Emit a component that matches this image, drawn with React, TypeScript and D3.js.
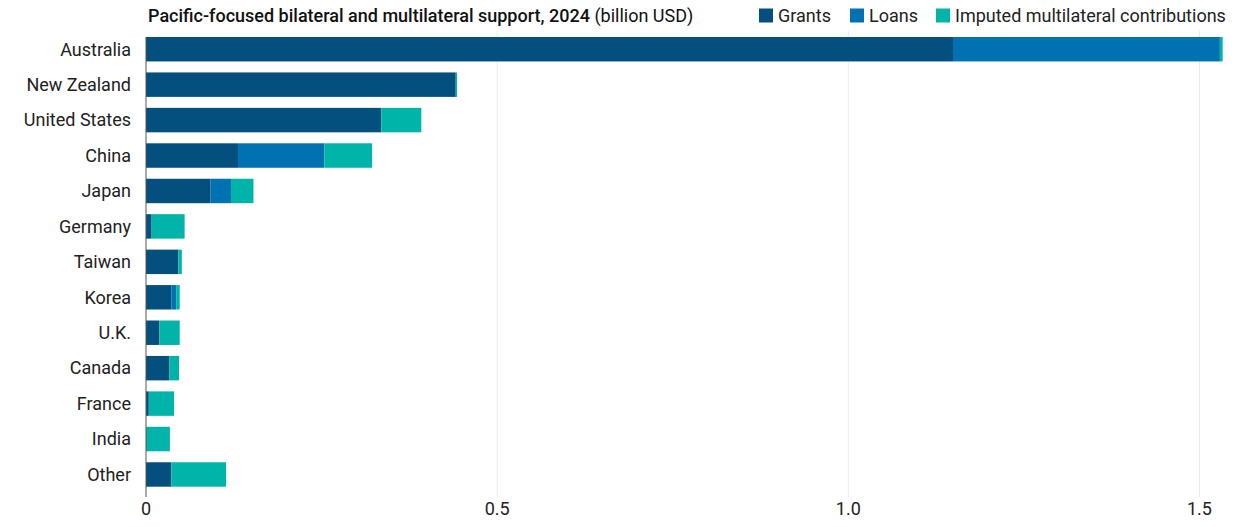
import React from "react";
import * as d3 from "d3";

const categories = ["Australia","New Zealand","United States","China","Japan","Germany","Taiwan","Korea","U.K.","Canada","France","India","Other"];
const grants =   [1.149,0.441,0.335,0.131,0.092,0.008,0.046,0.036,0.019,0.033,0.004,0.000,0.036];
const loans =    [0.380,0.000,0.000,0.123,0.029,0.000,0.000,0.007,0.000,0.000,0.000,0.000,0.000];
const imputed =  [0.004,0.002,0.057,0.068,0.032,0.047,0.005,0.005,0.029,0.014,0.036,0.034,0.078];
const seriesNames = ["Grants","Loans","Imputed multilateral contributions"];
const xTicks = [0, 0.5, 1.0, 1.5];

const colors = ["#03507e", "#0071b1", "#00b4a9"];
const W = 1251, H = 527;

export default function App() {
  const x = d3.scaleLinear().domain([0, 1.5]).range([146, 1199.5]);
  const y = d3.scaleBand<string>().domain(categories).range([31.5, 492.2]).paddingInner(0.31).paddingOuter(0.155);
  const rows = categories.map((c, i) => ({ cat: c, Grants: grants[i], Loans: loans[i], "Imputed multilateral contributions": imputed[i] }));
  const stack = d3.stack<any>().keys(seriesNames)(rows);
  const font = "Roboto, sans-serif";
  const legendItems = [
    { name: "Grants", x: 759 },
    { name: "Loans", x: 850 },
    { name: "Imputed multilateral contributions", x: 936 },
  ];
  return (
    <svg width={W} height={H} style={{ position: "absolute", left: 0, top: 0, display: "block" }} fontFamily={font}>
      <rect width={W} height={H} fill="#fff" />
      {xTicks.slice(1).map((t) => (
        <line key={t} x1={x(t)} x2={x(t)} y1={31} y2={497} stroke="#ebebeb" strokeWidth={1} />
      ))}
      {stack.map((s, si) => (
        <g key={s.key} fill={colors[si]}>
          {s.map((d, i) => {
            const w = x(d[1]) - x(d[0]);
            if (w <= 0) return null;
            return <rect key={i} x={x(d[0])} y={y(categories[i])} width={w} height={y.bandwidth()} />;
          })}
        </g>
      ))}
      <line x1={x(0)} x2={x(0)} y1={37} y2={497} stroke="#555" strokeWidth={1} />
      {categories.map((c) => (
        <text key={c} x={131} y={(y(c) as number) + y.bandwidth() / 2} dy="0.35em" textAnchor="end" fontSize={18} fill="#222">{c}</text>
      ))}
      {xTicks.map((t) => (
        <text key={t} x={x(t)} y={515} textAnchor="middle" fontSize={18} fill="#222">{t === 0 ? "0" : d3.format(".1f")(t)}</text>
      ))}
      <text x={148} y={22} fontSize={18} fill="#111">
        <tspan fontWeight={500}>Pacific-focused bilateral and multilateral support, 2024</tspan>
        <tspan> (billion USD)</tspan>
      </text>
      {legendItems.map((l, i) => (
        <g key={l.name}>
          <rect x={l.x} y={8.5} width={14} height={14} fill={colors[i]} />
          <text x={l.x + 19} y={22} fontSize={18} fill="#222">{l.name}</text>
        </g>
      ))}
    </svg>
  );
}
